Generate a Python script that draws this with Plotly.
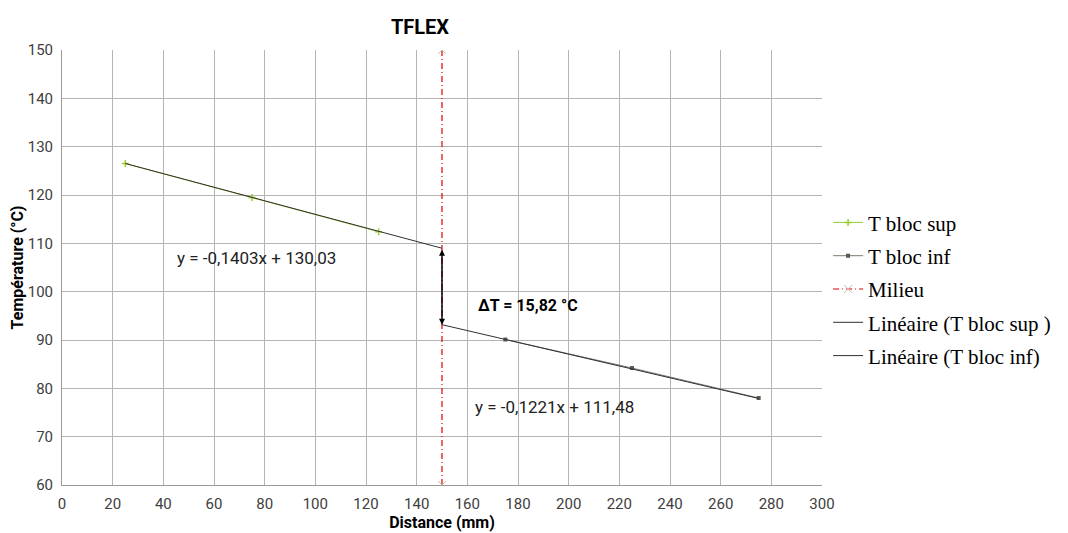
import plotly.graph_objects as go

# data
x_sup = [25, 75, 125]
t_sup = [126.5, 119.5, 112.4]
x_inf = [175, 225, 275]
t_inf = [90.1, 84.2, 78.0]
x_milieu = [150, 150]
t_milieu = [60, 150]

# trend line coefficients (as printed on the chart)
a_sup, b_sup = -0.1403, 130.03
a_inf, b_inf = -0.1221, 111.48
x_trend_sup = [25, 150]
x_trend_inf = [150, 275]
delta_label = "ΔT = 15,82 °C"

sans = "Liberation Sans Narrow, Roboto, sans-serif"
serif = "Liberation Serif, Times New Roman, serif"

y_trend_sup = [a_sup * x + b_sup for x in x_trend_sup]
y_trend_inf = [a_inf * x + b_inf for x in x_trend_inf]

fig = go.Figure()
fig.add_trace(go.Scatter(
    x=x_sup, y=t_sup, mode="lines+markers", name="T bloc sup", legendgroup="a",
    line=dict(color="#9acd32", width=1),
    marker=dict(symbol="cross-thin", size=5, color="#9acd32",
                line=dict(color="#9acd32", width=1.5))
))
fig.add_trace(go.Scatter(
    x=x_inf, y=t_inf, mode="lines+markers", name="T bloc inf", legendgroup="b",
    line=dict(color="#7a7a70", width=1),
    marker=dict(symbol="square", size=4, color="#595950")
))
fig.add_trace(go.Scatter(
    x=x_milieu, y=t_milieu, mode="lines+markers", name="Milieu", legendgroup="c",
    line=dict(color="#e00000", width=1.2, dash="6px,3px,1px,3px"),
    marker=dict(symbol="x-thin", size=8, color="#c8c0a8",
                line=dict(color="#c8c0a8", width=1))
))
fig.add_trace(go.Scatter(
    x=x_trend_sup, y=y_trend_sup, mode="lines", name="Linéaire (T bloc sup )", legendgroup="d",
    line=dict(color="#303030", width=1)
))
fig.add_trace(go.Scatter(
    x=x_trend_inf, y=y_trend_inf, mode="lines", name="Linéaire (T bloc inf)", legendgroup="e",
    line=dict(color="#303030", width=1)
))

# delta T arrow between the two trend lines at the middle
fig.add_annotation(
    x=x_trend_inf[0], y=y_trend_inf[0], ax=x_trend_sup[1], ay=y_trend_sup[1],
    xref="x", yref="y", axref="x", ayref="y", text="",
    showarrow=True, arrowhead=2, startarrowhead=2, arrowside="end+start",
    arrowsize=0.8, arrowwidth=1.5, arrowcolor="black"
)
fig.add_annotation(x=184, y=97.2, text="<b>" + delta_label + "</b>", showarrow=False,
                   font=dict(family=sans, size=16, color="black"))
fig.add_annotation(x=76.8, y=107, text="y = -0,1403x + 130,03", showarrow=False,
                   font=dict(family=sans, size=17, color="#222"))
fig.add_annotation(x=194.4, y=76.1, text="y = -0,1221x + 111,48", showarrow=False,
                   font=dict(family=sans, size=17, color="#222"))

# the page body adds an 8px offset, so the figure is a bit smaller than the window
fig.update_layout(
    width=1060, height=525,
    margin=dict(l=54, r=246, t=42, b=48),
    paper_bgcolor="white", plot_bgcolor="white",
    title=dict(text="<b>TFLEX</b>", xref="paper", x=0.471, xanchor="center",
               y=0.964, yanchor="middle",
               font=dict(family=sans, size=20, color="black")),
    font=dict(family=sans, color="#333"),
    xaxis=dict(
        range=[0, 300], dtick=20, showgrid=True, gridcolor="#b4b4b4", gridwidth=1,
        showline=True, linecolor="#999", mirror=False, zeroline=False, automargin=False,
        tickfont=dict(size=15, color="#404040"), ticks="", ticklabelstandoff=5,
        title=dict(text="<b>Distance (mm)</b>", font=dict(size=16, color="black"), standoff=2)
    ),
    yaxis=dict(
        range=[60, 150], dtick=10, showgrid=True, gridcolor="#b4b4b4", gridwidth=1,
        showline=True, linecolor="#999", zeroline=False, automargin=False,
        tickfont=dict(size=15, color="#404040"), ticks="", ticklabelstandoff=5,
        title=dict(text="<b>Température (°C)</b>", font=dict(size=16, color="black"), standoff=5)
    ),
    legend=dict(x=1.008, y=0.65, xanchor="left", yanchor="top",
                font=dict(family=serif, size=21, color="black"),
                itemwidth=30, tracegroupgap=3, bgcolor="rgba(0,0,0,0)"),
    showlegend=True
)

fig.write_html("out.html")
